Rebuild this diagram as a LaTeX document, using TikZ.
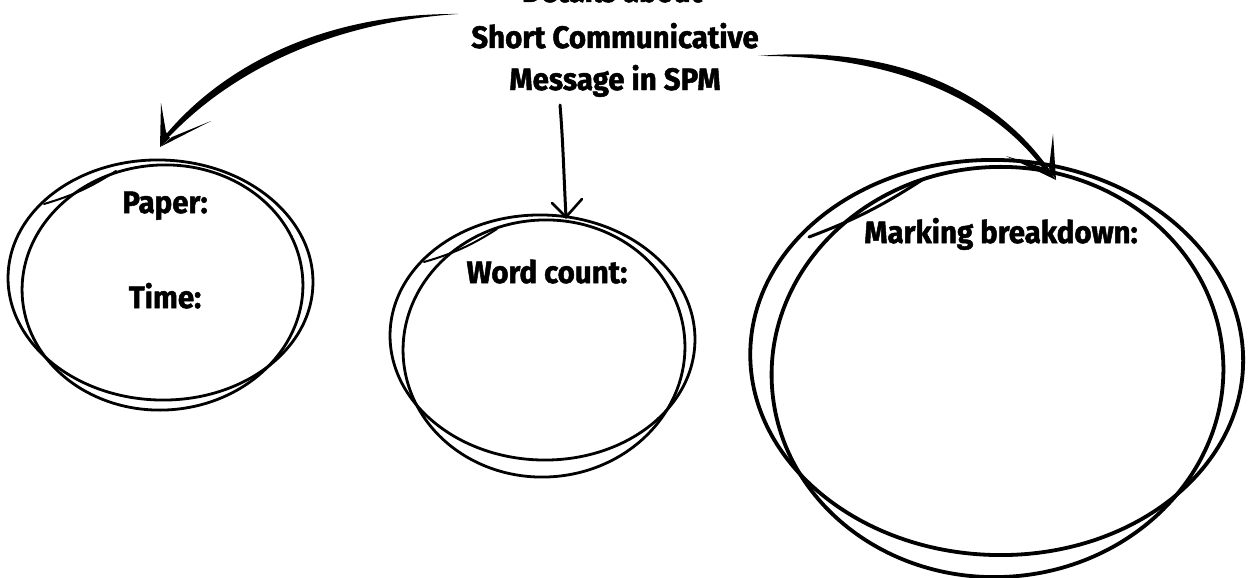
\documentclass[tikz,border=0pt]{standalone}
\usepackage{fontspec}
\setmainfont{Fira Sans}[FakeStretch=0.95, BoldFeatures={FakeBold=1.6}]
\usetikzlibrary{shapes.geometric}
\tikzset{
  lbl/.style={font=\bfseries\fontsize{31}{31}\selectfont, anchor=base, inner sep=0pt},
  ring/.style={draw=black, line width=2.8pt, ellipse, inner sep=0pt},
  bigring/.style={draw=black, line width=3.8pt, ellipse, inner sep=0pt},
  brush/.style={fill=black, draw=none},
  overstroke/.style={draw=black, line width=2pt, line cap=round},
}
\begin{document}
\begin{tikzpicture}[x=1pt,y=-1pt]
\useasboundingbox (0,0) rectangle (1250,578);
\begin{scope}
\clip (0,0) rectangle (1250,578);
% title (first line cut at the top edge, as in the reference)
\node[lbl] (t1) at (612,2) {Details about};
\node[lbl] (t2) at (615,48) {Short Communicative};
\node[lbl] (t3) at (615,90) {Message in SPM};
\end{scope}
% left circle
\node[ring, minimum width=305pt, minimum height=240pt, rotate=-2] (c1a) at (160.5,280) {};
\node[ring, minimum width=281pt, minimum height=245pt, rotate=4] (c1b) at (162.5,287.5) {};
\coordinate (o1a) at (44,204);
\coordinate (o1b) at (116,171);
\draw[overstroke] (o1a) to[bend right=8] (o1b);
\node[lbl] (paper) at (165,213) {Paper:};
\node[lbl] (time) at (165,308) {Time:};
% middle circle
\node[ring, minimum width=305pt, minimum height=245pt, rotate=-2] (c2a) at (542.5,337.5) {};
\node[ring, minimum width=282pt, minimum height=257pt, rotate=4] (c2b) at (544,348.5) {};
\coordinate (o2a) at (424,262);
\coordinate (o2b) at (497,229);
\draw[overstroke] (o2a) to[bend right=8] (o2b);
\node[lbl] (word) at (547,283) {Word count:};
% right circle
\node[bigring, minimum width=493pt, minimum height=395pt, rotate=-2] (c3a) at (996.7,357.5) {};
\node[bigring, minimum width=452pt, minimum height=410pt, rotate=4] (c3b) at (997.5,372) {};
\coordinate (o3a) at (809,237);
\coordinate (o3b) at (922,180);
\draw[overstroke, line width=3pt] (o3a) to[bend right=6] (o3b);
\node[lbl] (mark) at (1001,243) {Marking breakdown:};
% connector end points
\coordinate (ls) at (458,14);
\coordinate (lt) at (160,147);
\coordinate (ms) at (560,105);
\coordinate (mt) at (566,217);
\coordinate (rs) at (758,56);
\coordinate (rt) at (1056,180);
% left arrow (brush stroke)
\fill[brush] (ls) .. controls (330,13) and (225,62) .. (163,138)
  -- (170,136) .. controls (235,68) and (335,22) .. (ls) -- cycle;
\fill[brush] (lt) -- (161,103) -- (166,132) -- (170,138) -- cycle;
\fill[brush] (lt) -- (211,121) -- (172,137) -- cycle;
% middle arrow
\draw[line width=3pt, line cap=round] (ms) .. controls (563,140) and (564,180) .. (mt);
\draw[line width=2.6pt, line cap=round] (552,203) -- (mt) -- (582,199);
% right arrow (brush stroke)
\fill[brush] (rs) .. controls (900,44) and (1000,95) .. (1054,176)
  -- (1047,174) .. controls (995,100) and (895,55) .. (rs) -- cycle;
\fill[brush] (rt) -- (1053,134) -- (1049,168) -- cycle;
\fill[brush] (rt) -- (1006,156) -- (1048,169) -- cycle;
\end{tikzpicture}
\end{document}
